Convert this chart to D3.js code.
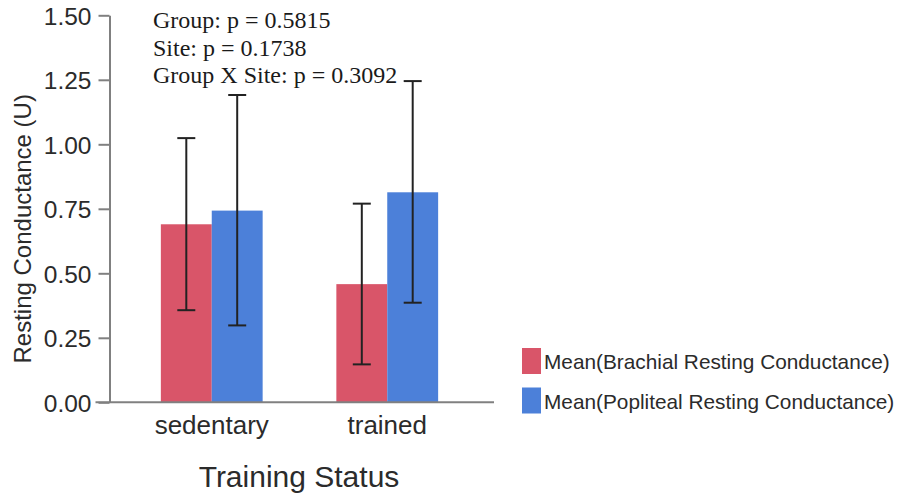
<!DOCTYPE html>
<html>
<head>
<meta charset="utf-8">
<script src="https://cdn.jsdelivr.net/npm/d3@7"></script>
<style>
  html, body { margin: 0; padding: 0; background: #fff; }
  svg { display: block; }
</style>
</head>
<body>
<svg id="chart" width="904" height="498"></svg>
<script>
// Training status groups and the two measurement sites
const categories = ["sedentary", "trained"];
const seriesNames = ["Mean(Brachial Resting Conductance)", "Mean(Popliteal Resting Conductance)"];
const brachialMean = [0.69, 0.458];
const brachialLow  = [0.357, 0.147];
const brachialHigh = [1.024, 0.770];
const poplitealMean = [0.743, 0.814];
const poplitealLow  = [0.298, 0.386];
const poplitealHigh = [1.191, 1.245];
const yTicks = [0, 0.25, 0.5, 0.75, 1.0, 1.25, 1.5];
const statsLines = ["Group: p = 0.5815", "Site: p = 0.1738", "Group X Site: p = 0.3092"];

const colors = ["#d95569", "#4c80d9"];
const sans = "'Liberation Sans', Arial, Helvetica, sans-serif";
const serif = "'Liberation Serif', 'DejaVu Serif', serif";

const svg = d3.select("#chart");

const plot = { left: 109.5, right: 494, top: 15.3, bottom: 402.3 };

const y = d3.scaleLinear().domain([0, 1.5]).range([plot.bottom, plot.top]);
const x = d3.scaleBand().domain(categories).range([124, 475])
  .paddingInner(0.42).paddingOuter(0.21);
const xs = d3.scaleBand().domain(seriesNames).range([0, x.bandwidth()]);

const rows = categories.map((c, i) => [
  { cat: c, s: seriesNames[0], mean: brachialMean[i], lo: brachialLow[i], hi: brachialHigh[i], col: colors[0] },
  { cat: c, s: seriesNames[1], mean: poplitealMean[i], lo: poplitealLow[i], hi: poplitealHigh[i], col: colors[1] }
]).flat();

// bars
svg.append("g").selectAll("rect").data(rows).join("rect")
  .attr("x", d => x(d.cat) + xs(d.s))
  .attr("y", d => y(d.mean))
  .attr("width", xs.bandwidth())
  .attr("height", d => y(0) - y(d.mean))
  .attr("fill", d => d.col);

// y axis
const yAxis = d3.axisLeft(y).tickValues(yTicks).tickFormat(d3.format(".2f"))
  .tickSize(11).tickSizeOuter(0).tickPadding(7);
const gy = svg.append("g").attr("transform", `translate(${plot.left},0)`).call(yAxis);
gy.select(".domain").attr("stroke", "#808080").attr("stroke-width", 2);
gy.selectAll(".tick line").attr("stroke", "#808080").attr("stroke-width", 2);
gy.selectAll(".tick text").attr("font-family", sans).attr("font-size", 24.5)
  .attr("fill", "#2b2b2b").attr("dy", "0.36em");

// x axis baseline
const xAxis = d3.axisBottom(x).tickSize(0).tickPadding(13);
const gx = svg.append("g").attr("transform", `translate(0,${plot.bottom})`).call(xAxis);
gx.select(".domain").remove();
gx.append("line").attr("x1", plot.left - 14).attr("x2", plot.right)
  .attr("y1", 0).attr("y2", 0).attr("stroke", "#808080").attr("stroke-width", 2);
gx.selectAll(".tick text").attr("font-family", sans).attr("font-size", 26)
  .attr("fill", "#2b2b2b").attr("dy", "0.71em");

// error bars
const eb = svg.append("g").attr("stroke", "#222").attr("stroke-width", 2);
const cap = 9;
rows.forEach(d => {
  const cx = x(d.cat) + xs(d.s) + xs.bandwidth() / 2;
  eb.append("line").attr("x1", cx).attr("x2", cx).attr("y1", y(d.lo)).attr("y2", y(d.hi));
  eb.append("line").attr("x1", cx - cap).attr("x2", cx + cap).attr("y1", y(d.hi)).attr("y2", y(d.hi));
  eb.append("line").attr("x1", cx - cap).attr("x2", cx + cap).attr("y1", y(d.lo)).attr("y2", y(d.lo));
});

// axis titles
svg.append("text").attr("transform", `translate(31,${(plot.top + plot.bottom) / 2 + 20}) rotate(-90)`)
  .attr("text-anchor", "middle").attr("font-family", sans).attr("font-size", 24)
  .attr("fill", "#2b2b2b").text("Resting Conductance (U)");
svg.append("text").attr("x", 299).attr("y", 487).attr("text-anchor", "middle")
  .attr("font-family", sans).attr("font-size", 30).attr("fill", "#2b2b2b").text("Training Status");

// statistics annotation
svg.append("g").selectAll("text").data(statsLines).join("text")
  .attr("x", 153).attr("y", (d, i) => 28 + i * 27.5)
  .attr("font-family", serif).attr("font-size", 24).attr("fill", "#1a1a1a")
  .text(d => d);

// legend
const lg = svg.append("g").attr("transform", "translate(522,348)");
seriesNames.forEach((s, i) => {
  lg.append("rect").attr("x", 0).attr("y", i * 39.5).attr("width", 19).attr("height", 26)
    .attr("fill", colors[i]);
  lg.append("text").attr("x", 22).attr("y", i * 39.5 + 21)
    .attr("font-family", sans).attr("font-size", 20.8).attr("fill", "#2b2b2b").text(s);
});
</script>
</body>
</html>
